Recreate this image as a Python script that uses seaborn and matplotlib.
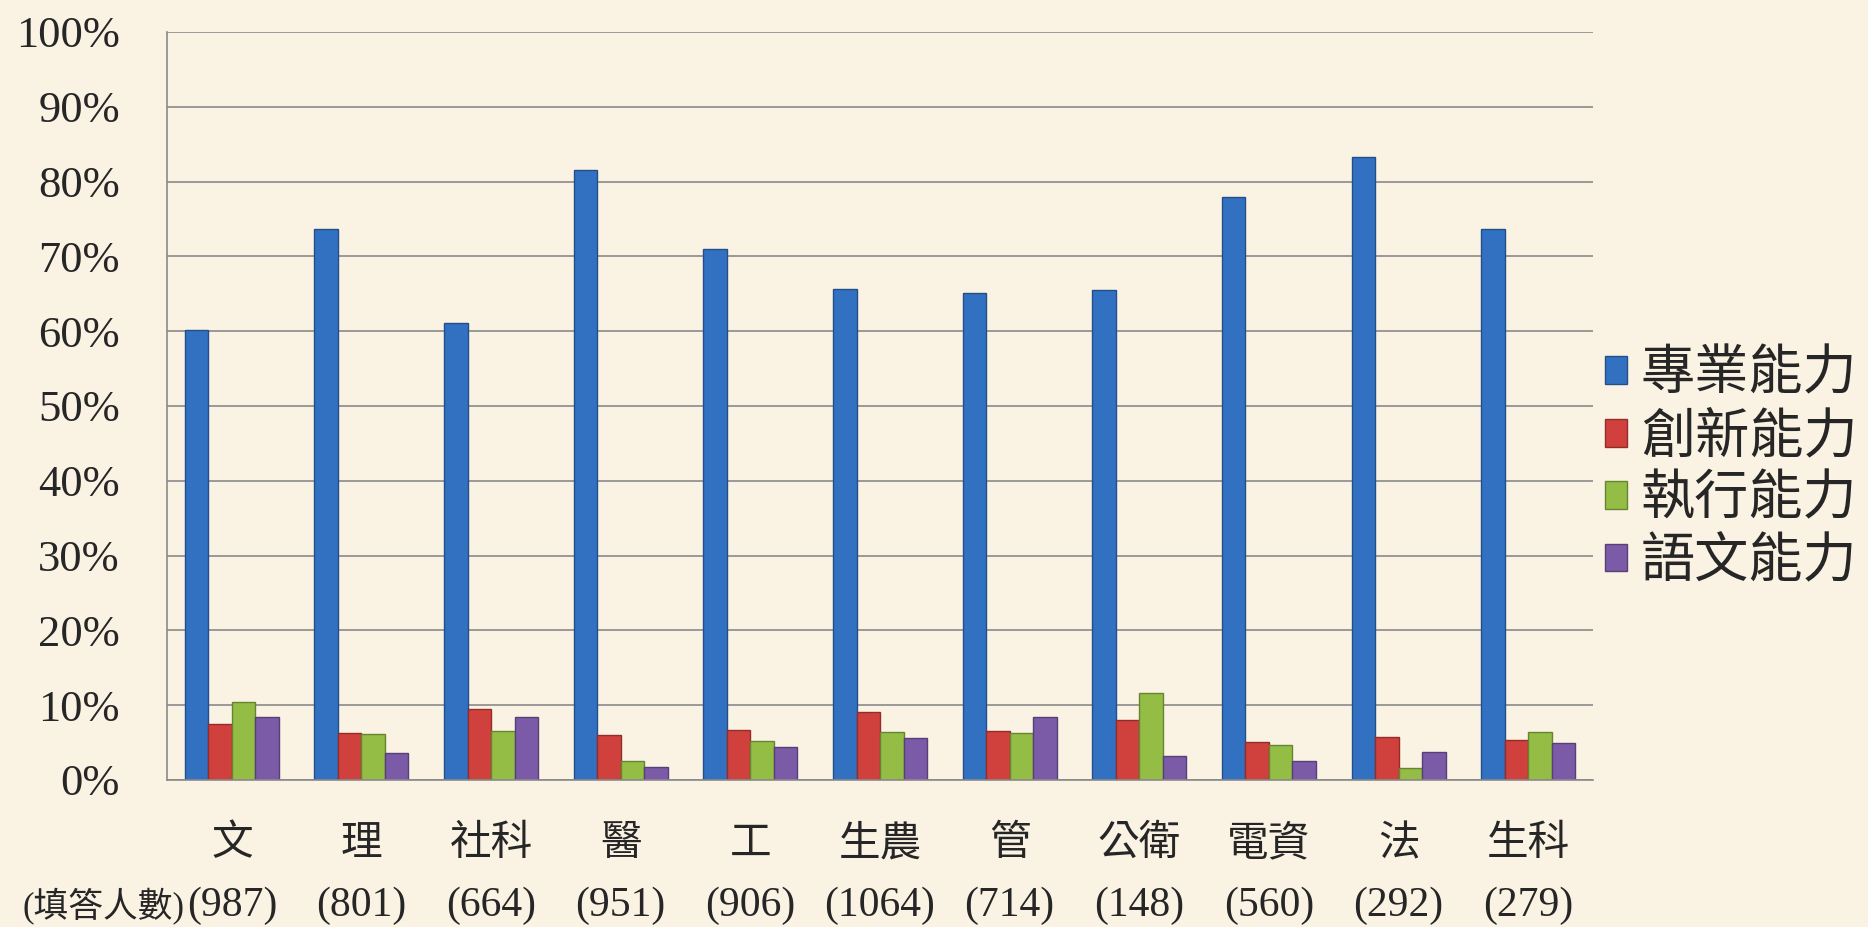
import pandas as pd
import matplotlib
matplotlib.use("Agg")
import matplotlib.pyplot as plt
import matplotlib.transforms as mtransforms
import matplotlib.colors as mcolors
import seaborn as sns

# 學院與填答人數
colleges = ["文", "理", "社科", "醫", "工", "生農", "管", "公衛", "電資", "法", "生科"]
counts = [987, 801, 664, 951, 906, 1064, 714, 148, 560, 292, 279]

# 各能力比例 (%)
zhuanye = [60.2, 73.7, 61.1, 81.5, 71.0, 65.6, 65.1, 65.5, 77.9, 83.3, 73.7]
chuangxin = [7.45, 6.24, 9.55, 6.07, 6.64, 9.15, 6.5, 7.99, 5.03, 5.7, 5.3]
zhixing = [10.36, 6.1, 6.5, 2.6, 5.17, 6.38, 6.24, 11.6, 4.63, 1.54, 6.38]
yuwen = [8.48, 3.56, 8.48, 1.8, 4.45, 5.66, 8.4, 3.25, 2.6, 3.7, 4.9]

abilities = ["專業能力", "創新能力", "執行能力", "語文能力"]
series = [zhuanye, chuangxin, zhixing, yuwen]
colors = ["#3271C2", "#D0403C", "#93BD44", "#7B5BA8"]

rows = []
for name, vals in zip(abilities, series):
    for c, v in zip(colleges, vals):
        rows.append({"學院": c, "比例": v, "能力": name})
df = pd.DataFrame(rows)

sns.set_theme(style="white")
plt.rcParams["font.family"] = ["Liberation Serif", "Noto Sans CJK TC"]

bg = "#FAF3E4"
fig = plt.figure(figsize=(18.68, 9.27), dpi=100, facecolor=bg)
ax = fig.add_axes([0.0894, 0.1586, 0.7634, 0.8069])
ax.set_facecolor(bg)

sns.barplot(data=df, x="學院", y="比例", hue="能力", palette=colors,
            width=0.725, gap=0, saturation=1, ax=ax)

# 邊框顏色稍深
for p in ax.patches:
    fc = mcolors.to_rgb(p.get_facecolor())
    p.set_edgecolor(tuple(x * 0.7 for x in fc))
    p.set_linewidth(1.0)

ax.set_ylim(0, 100)
ax.set_xlim(-0.5, len(colleges) - 0.5)
ax.set_yticks(range(0, 101, 10))
ax.set_yticklabels([f"{t}%" for t in range(0, 101, 10)], fontsize=32)
ax.tick_params(axis="y", length=0, pad=34)
ax.set_xticks(range(len(colleges)))
ax.set_xticklabels([])
ax.tick_params(axis="x", length=0)
ax.set_xlabel("")
ax.set_ylabel("")

gridc = "#8A8A8A"
ax.yaxis.grid(True, color=gridc, linewidth=1.2)
ax.set_axisbelow(True)
for s in ["top", "right"]:
    ax.spines[s].set_visible(False)
for s in ["left", "bottom"]:
    ax.spines[s].set_color(gridc)
    ax.spines[s].set_linewidth(1.2)

trans = mtransforms.blended_transform_factory(ax.transData, ax.transAxes)
for i, (c, n) in enumerate(zip(colleges, counts)):
    ax.text(i, -0.087, c, transform=trans, ha="center", va="center", fontsize=30)
    ax.text(i, -0.168, f"({n})", transform=trans, ha="center", va="center", fontsize=30)
lbl_trans = mtransforms.offset_copy(trans, fig=fig, x=-34, y=0, units="points")
ax.text(0, -0.168, "(填答人數)", transform=lbl_trans, ha="right", va="center", fontsize=25)

handles, labels = ax.get_legend_handles_labels()
ax.get_legend().remove()
fig.legend(handles, labels, loc="center left", bbox_to_anchor=(0.859, 0.493),
           frameon=False, fontsize=39, handlelength=0.41, handleheight=0.41,
           handletextpad=0.26, labelspacing=0.22, borderpad=0, borderaxespad=0)

fig.savefig("out.png", dpi=100, facecolor=bg)
